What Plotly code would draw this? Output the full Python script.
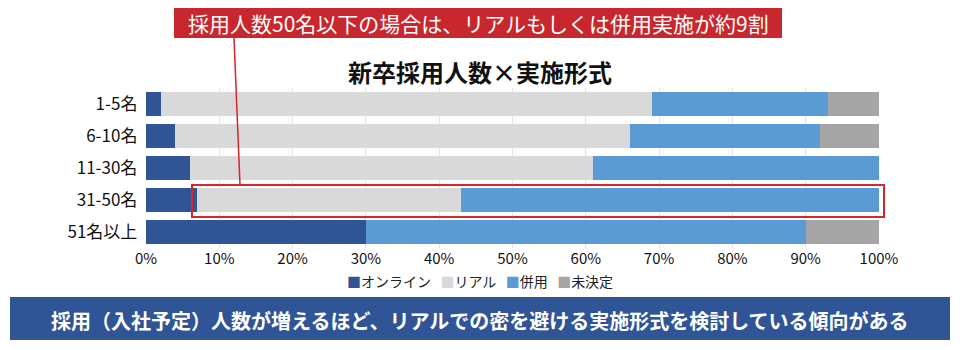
import plotly.graph_objects as go

categories = ["1-5名", "6-10名", "11-30名", "31-50名", "51名以上"]
online = [2, 4, 6, 7, 30]
real = [67, 62, 55, 36, 0]
combined = [24, 26, 39, 57, 60]
undecided = [7, 8, 0, 0, 10]
series_names = ["オンライン", "リアル", "併用", "未決定"]
series_colors = ["#2F5597", "#D9D9D9", "#5B9BD5", "#A5A5A5"]
x_ticks = [0, 10, 20, 30, 40, 50, 60, 70, 80, 90, 100]

FONT = "Noto Sans CJK JP"
W, H = 960, 350
L, R, T, B = 146, 879, 88, 248


def px(x):
    return (x - L) / (R - L)


def py(y):
    return (B - y) / (B - T)


fig = go.Figure()
for name, vals, col in zip(series_names, [online, real, combined, undecided], series_colors):
    fig.add_trace(go.Bar(
        y=categories, x=vals, name=name, orientation="h",
        marker=dict(color=col, line=dict(width=0)),
    ))

shapes = [
    dict(type="rect", xref="paper", yref="paper", x0=px(174), x1=px(782), y0=py(38), y1=py(8),
         fillcolor="#C8282D", line=dict(width=0), layer="above"),
    dict(type="line", xref="paper", yref="paper", x0=px(234), y0=py(38), x1=px(240), y1=py(185),
         line=dict(color="#D8262C", width=1.5), layer="above"),
    dict(type="rect", xref="paper", yref="paper", x0=px(192), x1=px(884), y0=py(217), y1=py(185),
         line=dict(color="#D8262C", width=2), fillcolor="rgba(0,0,0,0)", layer="above"),
    dict(type="rect", xref="paper", yref="paper", x0=px(10), x1=px(950), y0=py(340), y1=py(297),
         fillcolor="#2F5597", line=dict(width=0), layer="above"),
]

legend_parts = []
for name, col in zip(series_names, series_colors):
    legend_parts.append(f"<span style='color:{col}'>■</span>{name}")
legend_text = "\u00a0\u00a0\u00a0".join(legend_parts)

annotations = [
    dict(text="採用人数50名以下の場合は、リアルもしくは併用実施が約9割", xref="paper", yref="paper",
         x=px(478), y=py(23), showarrow=False, font=dict(family=FONT, size=21, color="white"),
         xanchor="center", yanchor="middle"),
    dict(text="<b>新卒採用人数×実施形式</b>", xref="paper", yref="paper",
         x=px(480), y=py(72), showarrow=False, font=dict(family=FONT, size=24, color="#111111"),
         xanchor="center", yanchor="middle"),
    dict(text="<b>採用（入社予定）人数が増えるほど、リアルでの密を避ける実施形式を検討している傾向がある</b>",
         xref="paper", yref="paper", x=px(480), y=py(320), showarrow=False,
         font=dict(family=FONT, size=20, color="white"), xanchor="center", yanchor="middle"),
    dict(text=legend_text, xref="paper", yref="paper", x=px(480), y=py(281), showarrow=False,
         font=dict(family=FONT, size=14, color="#222222"), xanchor="center", yanchor="middle"),
]

fig.update_layout(
    width=W, height=H,
    margin=dict(l=L, r=W - R, t=T, b=H - B),
    barmode="stack", bargap=0.28,
    plot_bgcolor="white", paper_bgcolor="white",
    font=dict(family=FONT, color="#111111"),
    showlegend=False,
    xaxis=dict(range=[0, 100], tickvals=x_ticks, ticktext=[f"{v}%" for v in x_ticks],
               showgrid=True, gridcolor="#E3E3E3", gridwidth=1, zeroline=False,
               tickfont=dict(family=FONT, size=15, color="#111111"), ticks="", showline=False),
    yaxis=dict(categoryorder="array", categoryarray=categories, autorange="reversed",
               tickfont=dict(family=FONT, size=17, color="#111111"), ticks="", showline=False,
               ticksuffix="  "),
    shapes=shapes, annotations=annotations,
)

fig.write_html("out.html")
